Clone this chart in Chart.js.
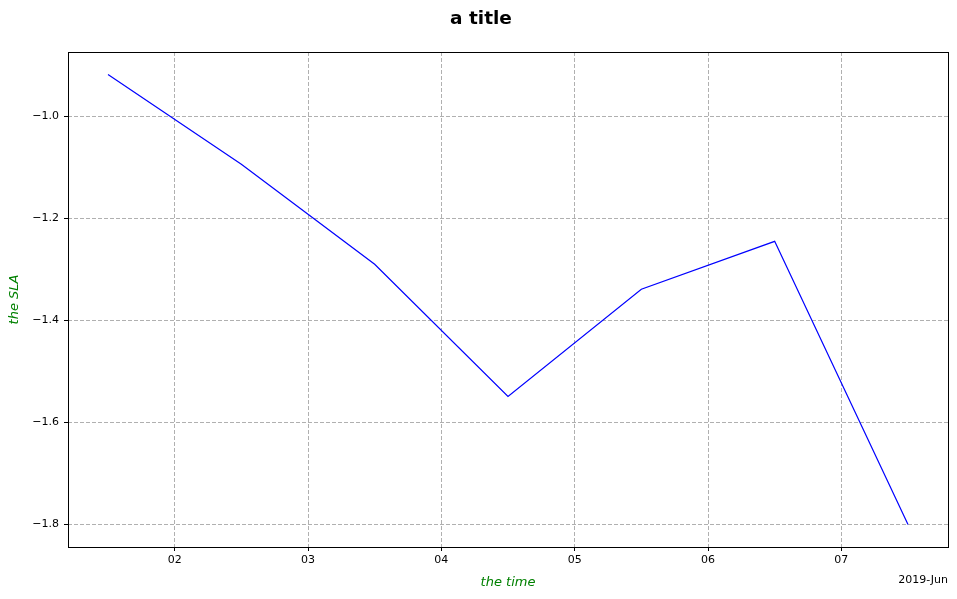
<!DOCTYPE html>
<html>
<head>
<meta charset="utf-8">
<script src="https://cdn.jsdelivr.net/npm/chart.js@4.4.1/dist/chart.umd.min.js"></script>
<style>
  body { margin: 0; background: #fff; }
  #wrap { width: 957px; height: 599px; }
</style>
</head>
<body>
<div id="wrap"><canvas id="chart"></canvas></div>
<script>
// data (x = day of June 2019, points at noon)
const xDays = [1.5, 2.5, 3.5, 4.5, 5.5, 6.5, 7.5];
const slaValues = [-0.918, -1.094, -1.290, -1.549, -1.339, -1.245, -1.800];
const xTickValues = [2, 3, 4, 5, 6, 7];
const xTickLabels = ['02', '03', '04', '05', '06', '07'];
const yTickValues = [-1.8, -1.6, -1.4, -1.2, -1.0];
const titleText = 'a title';
const offsetLabel = '2019-Jun';

Chart.defaults.font.family = 'DejaVu Sans';
Chart.defaults.color = '#000';

// frame round the plot, figure title and the date offset label
const frame = {
    id: 'frame',
    afterDraw(chart) {
        const { ctx, chartArea: a } = chart;
        ctx.save();
        ctx.strokeStyle = '#000';
        ctx.lineWidth = 1;
        ctx.strokeRect(Math.round(a.left) + 0.5, Math.round(a.top) + 0.5,
            Math.round(a.right - a.left), Math.round(a.bottom - a.top));
        ctx.fillStyle = '#000';
        ctx.textBaseline = 'middle';
        ctx.textAlign = 'center';
        ctx.font = 'bold 18.5px DejaVu Sans';
        ctx.fillText(titleText, 481, 19);
        ctx.font = '11px DejaVu Sans';
        ctx.textAlign = 'right';
        ctx.fillText(offsetLabel, a.right, 580);
        ctx.restore();
    }
};

const ctx = document.getElementById('chart').getContext('2d');
new Chart(ctx, {
    type: 'line',
    data: {
        datasets: [{
            data: xDays.map((d, i) => ({ x: d, y: slaValues[i] })),
            borderColor: '#0000ff',
            borderWidth: 1.2,
            pointRadius: 0,
            tension: 0,
            fill: false
        }]
    },
    options: {
        responsive: true,
        maintainAspectRatio: false,
        animation: false,
        layout: { padding: { left: 0, right: 9, top: 52, bottom: 0 } },
        plugins: {
            legend: { display: false },
            tooltip: { enabled: false },
            title: { display: false }
        },
        scales: {
            x: {
                type: 'linear',
                min: 1.2,
                max: 7.8,
                afterBuildTicks: (scale) => {
                    scale.ticks = xTickValues.map(v => ({ value: v }));
                },
                afterFit: (scale) => { scale.height = 52; },
                ticks: {
                    font: { size: 11 },
                    padding: 3,
                    callback: (v) => xTickLabels[xTickValues.indexOf(v)]
                },
                grid: {
                    color: '#b0b0b0',
                    lineWidth: 1,
                    tickLength: 4,
                    tickColor: '#000',
                    tickBorderDash: []
                },
                border: { display: false, dash: [4, 2] },
                title: {
                    display: true,
                    text: 'the time',
                    color: 'green',
                    font: { size: 13, style: 'italic' },
                    padding: { top: 8, bottom: 9 }
                }
            },
            y: {
                min: -1.8441,
                max: -0.8739,
                afterBuildTicks: (scale) => {
                    scale.ticks = yTickValues.map(v => ({ value: v }));
                },
                afterFit: (scale) => { scale.width = 68; },
                ticks: {
                    font: { size: 11 },
                    padding: 5,
                    callback: (v) => v.toFixed(1).replace('-', '\u2212')
                },
                grid: {
                    color: '#b0b0b0',
                    lineWidth: 1,
                    tickLength: 4,
                    tickColor: '#000',
                    tickBorderDash: []
                },
                border: { display: false, dash: [4, 2] },
                title: {
                    display: true,
                    text: 'the SLA',
                    color: 'green',
                    font: { size: 13, style: 'italic' },
                    padding: { top: 7, bottom: 0 }
                }
            }
        }
    },
    plugins: [frame]
});
</script>
</body>
</html>
